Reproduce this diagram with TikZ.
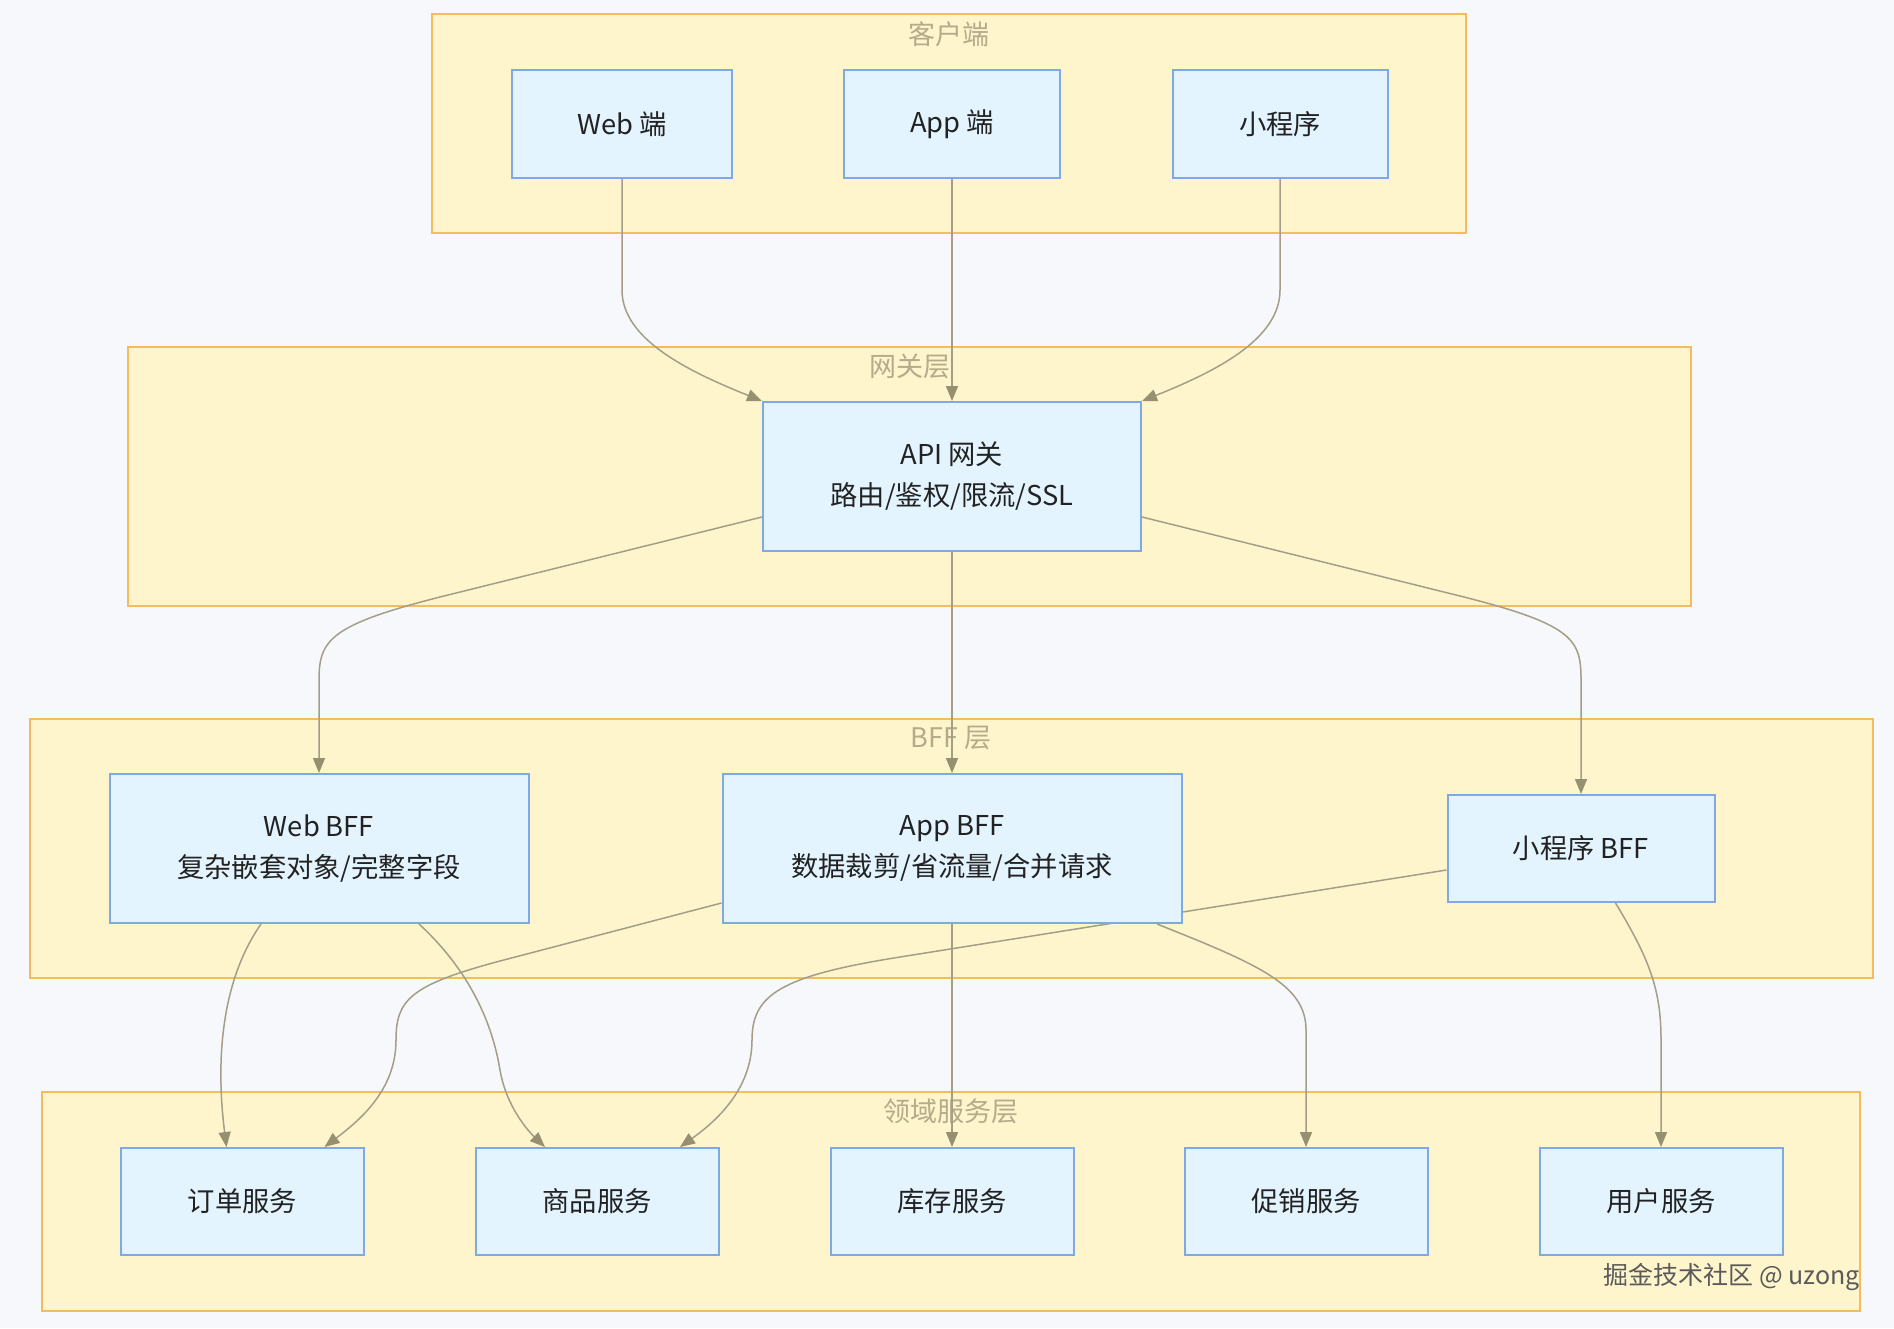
\documentclass[tikz,border=0pt]{standalone}
\usepackage{fontspec}
\setmainfont{Noto Sans CJK SC}
\usetikzlibrary{arrows.meta}
\pgfdeclarelayer{bg}\pgfdeclarelayer{edges}\pgfsetlayers{bg,edges,main}
\definecolor{pagebg}{HTML}{F7F8FB}
\definecolor{clfill}{HTML}{FFF5CC}
\definecolor{cldraw}{HTML}{F5BC5E}
\definecolor{cltext}{HTML}{B3AB8A}
\definecolor{ndfill}{HTML}{E3F4FF}
\definecolor{nddraw}{HTML}{7EA8E6}
\definecolor{edgecol}{HTML}{A39E88}
\definecolor{tipcol}{HTML}{968F70}
\definecolor{txt}{HTML}{222222}
\definecolor{wm}{HTML}{5A5A5A}
\tikzset{
  box/.style={draw=nddraw, fill=ndfill, line width=2pt, inner sep=0pt, align=center,
    font=\fontsize{27.3}{41}\selectfont, text=txt},
  cluster/.style={draw=cldraw, fill=clfill, line width=2pt},
  cllabel/.style={text=cltext, font=\fontsize{27}{30}\selectfont, inner sep=0pt},
  flow/.style={draw=edgecol, line width=1.5pt,
    -{Triangle[length=15pt,width=12pt,color=tipcol]}}
}
\begin{document}
\begin{tikzpicture}[x=1pt,y=-1pt]
\useasboundingbox (0,0) rectangle (1894,1328);

\begin{pgfonlayer}{bg}
\fill[pagebg] (0,0) rectangle (1894,1328);
\draw[cluster] (432,14) rectangle (1466,233);
\node[cllabel] (lc) at (949,34) {客户端};
\draw[cluster] (128,347) rectangle (1691,606);
\node[cllabel] (lg) at (910,366) {网关层};
\draw[cluster] (30,719) rectangle (1873,978);
\node[cllabel] (lb) at (951,738) {BFF 层};
\draw[cluster] (42,1092) rectangle (1860,1311);
\node[cllabel] (ld) at (951,1111) {领域服务层};
\end{pgfonlayer}

% client nodes
\node[box, minimum width=220pt, minimum height=108pt] (web) at (622,124) {Web 端};
\node[box, minimum width=216pt, minimum height=108pt] (appc) at (952,124) {App 端};
\node[box, minimum width=215pt, minimum height=108pt] (xcx) at (1280,124) {小程序};
% gateway
\node[box, minimum width=378pt, minimum height=149pt] (gw) at (952,476.5) {API 网关\\路由/鉴权/限流/SSL};
% BFF
\node[box, minimum width=419pt, minimum height=149pt] (webbff) at (319,848.5) {Web BFF\\复杂嵌套对象/完整字段};
\node[box, minimum width=459pt, minimum height=149pt] (appbff) at (952,848.5) {App BFF\\数据裁剪/省流量/合并请求};
\node[box, minimum width=267pt, minimum height=107pt] (xbff) at (1581,848.5) {小程序 BFF};
% services
\node[box, minimum width=243pt, minimum height=107pt] (ds) at (242.5,1201.5) {订单服务};
\node[box, minimum width=243pt, minimum height=107pt] (sp) at (597,1201.5) {商品服务};
\node[box, minimum width=243pt, minimum height=107pt] (kc) at (952,1201.5) {库存服务};
\node[box, minimum width=243pt, minimum height=107pt] (cx) at (1306,1201.5) {促销服务};
\node[box, minimum width=243pt, minimum height=107pt] (yh) at (1661,1201.5) {用户服务};

\node[anchor=east, text=wm, font=\fontsize{25}{28}\selectfont, inner sep=0pt] (wmk) at (1860,1277) {掘金技术社区 @ uzong};

\begin{pgfonlayer}{edges}
\draw[flow] (web.south) -- (622,290) .. controls (622,340) and (690,372) .. (gw.north west);
\draw[flow] (appc.south) -- (gw.north);
\draw[flow] (xcx.south) -- (1280,290) .. controls (1280,340) and (1214,372) .. (gw.north east);

\draw[flow] ([yshift=-40.5pt]gw.west) -- (440,597) .. controls (330,625) and (319,640) .. (319,680) -- (webbff.north);
\draw[flow] (gw.south) -- (appbff.north);
\draw[flow] ([yshift=-40.5pt]gw.east) -- (1464,597) .. controls (1574,625) and (1581,640) .. (1581,680) -- (xbff.north);

\draw[flow] ([xshift=-58pt]webbff.south) .. controls (215,990) and (218,1080) .. ([xshift=-16pt]ds.north);
\draw[flow] ([xshift=100pt]webbff.south) .. controls (480,980) and (495,1040) .. (500,1070) .. controls (505,1100) and (522,1125) .. ([xshift=-52pt]sp.north);
\draw[flow] ([yshift=-54.5pt]appbff.west) -- (500,961) .. controls (410,985) and (396,1000) .. (396,1040) .. controls (396,1090) and (360,1120) .. ([xshift=82pt]ds.north);
\draw[flow] ([yshift=-21.5pt]xbff.west) -- (900,957) .. controls (780,976) and (752,995) .. (752,1040) .. controls (752,1090) and (715,1122) .. ([xshift=83pt]sp.north);
\draw[flow] (appbff.south) -- (kc.north);
\draw[flow] ([xshift=205pt]appbff.south) .. controls (1260,965) and (1306,985) .. (1306,1030) -- (cx.north);
\draw[flow] ([xshift=34.5pt]xbff.south) .. controls (1650,960) and (1661,990) .. (1661,1040) -- (yh.north);
\end{pgfonlayer}
\end{tikzpicture}
\end{document}
